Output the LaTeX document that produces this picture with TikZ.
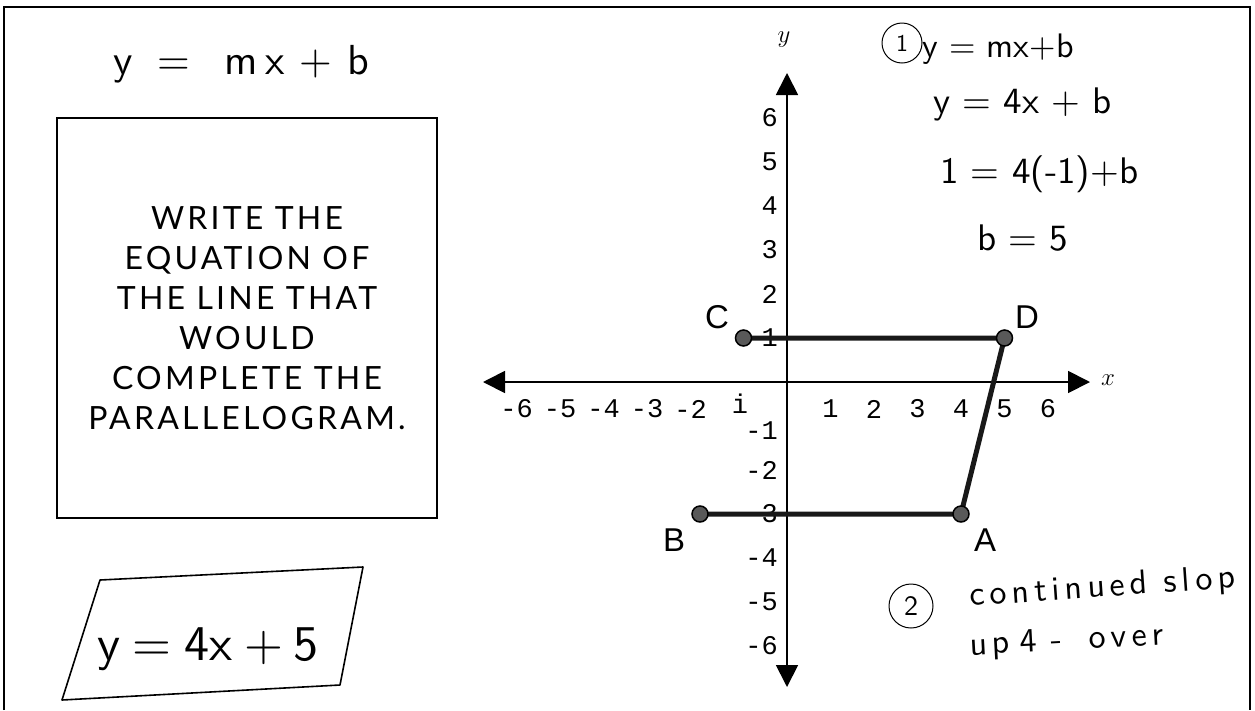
\documentclass[tikz,border=0pt]{standalone}
\usepackage{fontspec}
\usetikzlibrary{arrows.meta}
\newfontfamily\boxfont{Lato}[LetterSpace=10]
\newfontfamily\lblfont{Liberation Sans}
\newfontfamily\axfont{Liberation Mono}
\newfontfamily\handfont{lmsans10-regular.otf}
\newfontfamily\handwide{lmsans10-regular.otf}[LetterSpace=15]
\begin{document}
\begin{tikzpicture}[x=1pt,y=-1pt,
  frame/.style={line width=2pt},
  axisline/.style={line width=1.8pt,{Triangle[length=22pt,width=22pt]}-{Triangle[length=22pt,width=22pt]}},
  side/.style={line width=5pt,draw=black!90,line cap=round,line join=round},
  vertex/.style={circle,fill=black!65,draw=black,line width=1.5pt,minimum size=16pt,inner sep=0pt},
  ticklab/.style={font=\axfont\fontsize{27}{27}\selectfont,inner sep=0pt},
  ptlab/.style={font=\lblfont\fontsize{33}{33}\selectfont,inner sep=0pt},
  hand/.style={inner sep=0pt,anchor=base west},
  ring/.style={circle,draw,line width=1pt,inner sep=0pt},
]
\useasboundingbox (0,0) rectangle (1255,710);
% outer frame
\coordinate (f1) at (4,710); \coordinate (f2) at (4,7);
\coordinate (f3) at (1250,7); \coordinate (f4) at (1250,710);
\draw[frame] (f1) -- (f2) -- (f3) -- (f4);

% prompt box
\node[draw,line width=2pt,minimum width=380pt,minimum height=400pt,align=center,
      font=\boxfont\fontsize{32}{40}\selectfont] (prompt) at (247,318)
  {WRITE THE\\EQUATION OF\\THE LINE THAT\\WOULD\\COMPLETE THE\\PARALLELOGRAM.};

% handwriting, left
\node[hand,font=\handfont\fontsize{42}{42}\selectfont] (gen) at (113,74)
  {y\hspace{0.6em}=\hspace{0.8em}m\hspace{0.2em}x\hspace{0.35em}+\hspace{0.35em}b};
\coordinate (p1) at (100,580); \coordinate (p2) at (363,567);
\coordinate (p3) at (340,685); \coordinate (p4) at (62,700);
\draw[line width=1.6pt,line join=round] (p1) -- (p2) -- (p3) -- (p4) -- cycle;
\node[hand,font=\handfont\fontsize{50}{50}\selectfont] (ans) at (97,660)
  {y\hspace{0.25em}=\hspace{0.25em}4x\hspace{0.25em}+\hspace{0.2em}5};

% axes
\coordinate (xl) at (483,382); \coordinate (xr) at (1090,382);
\coordinate (yt) at (787,73);  \coordinate (yb) at (787,687);
\draw[axisline] (xl) -- (xr);
\draw[axisline] (yb) -- (yt);
\node[inner sep=0pt,font=\fontsize{36}{36}\selectfont] (xname) at (1108,380) {$x$};
\node[inner sep=0pt,font=\fontsize{34}{34}\selectfont] (yname) at (784,40) {$y$};

% tick labels
\foreach \i in {1,...,6}{
  \node[ticklab] (xp\i) at ({787+43.5*\i},409) {\i};
  \node[ticklab,anchor=east] (yp\i) at (778,{382-44*\i}) {\i};
}
\foreach \i in {2,...,6}{
  \node[ticklab,anchor=east] (yn\i) at (778,{382+44*\i}) {-\i};
  \node[ticklab,anchor=east] (xn\i) at ({787-43.5*\i+7},409) {-\i};
}
\node[ticklab,anchor=east] (yn1) at (778,431) {-1};
\node[ticklab] (xn1) at (740,404) {i};

% parallelogram
\coordinate (C) at (743.5,338); \coordinate (D) at (1004.5,338);
\coordinate (A) at (961,514);   \coordinate (B) at (700,514);
\draw[side] (C) -- (D) -- (A) -- (B);
\node[vertex] (Cdot) at (C) {};
\node[vertex] (Ddot) at (D) {};
\node[vertex] (Adot) at (A) {};
\node[vertex] (Bdot) at (B) {};
\node[ptlab] (labC) at (717,317) {C};
\node[ptlab] (labD) at (1027,317) {D};
\node[ptlab] (labB) at (674,540) {B};
\node[ptlab] (labA) at (985,540) {A};

% handwriting, right
\node[ring,minimum size=40pt,font=\handfont\fontsize{24}{24}\selectfont] (c1) at (902,43) {1};
\node[hand,font=\handfont\fontsize{34}{34}\selectfont] (l1) at (922,57) {y = mx+b};
\node[hand,font=\handfont\fontsize{37}{37}\selectfont] (l2) at (933,113) {y = 4x + b};
\node[hand,font=\handfont\fontsize{37}{37}\selectfont] (l3) at (940,183) {1 = 4(-1)+b};
\node[hand,font=\handfont\fontsize{37}{37}\selectfont] (l4) at (977,250) {b = 5};

\node[ring,minimum size=44pt,font=\handfont\fontsize{28}{28}\selectfont] (c2) at (911,606) {2};
\node[hand,font=\handwide\fontsize{34}{34}\selectfont,rotate=4] (l5) at (970,606) {continued slop};
\node[hand,font=\handwide\fontsize{34}{34}\selectfont,rotate=3] (l6) at (970,655)
  {up\hspace{0.3em}4\hspace{0.4em}-\hspace{0.8em}over};
\end{tikzpicture}
\end{document}
